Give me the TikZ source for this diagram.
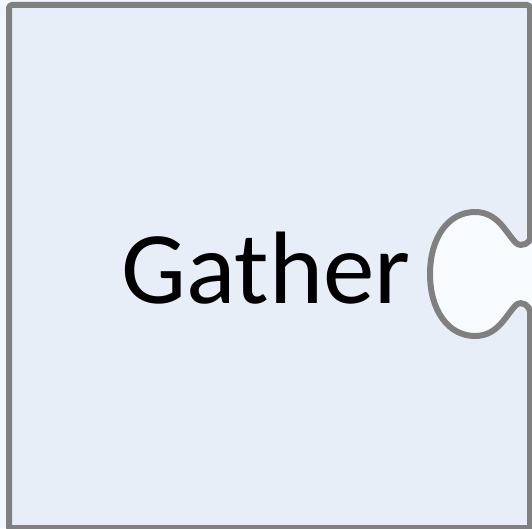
\documentclass[tikz,border=0pt]{standalone}
\usepackage{fontspec}
\setmainfont{Carlito}
\definecolor{bgblue}{HTML}{F1F6FD}
\definecolor{piecefill}{HTML}{E8EEF7}
\definecolor{notchfill}{HTML}{F8FBFE}
\definecolor{edgegrey}{HTML}{808080}
\begin{document}
\begin{tikzpicture}[x=1pt,y=1pt,
  piece/.style={fill=piecefill,draw=edgegrey,line width=6pt,line join=round},
  label/.style={font=\fontsize{103}{110}\selectfont,text=black,inner sep=0pt,anchor=base}]
\useasboundingbox (0,0) rectangle (532,528);
\fill[bgblue] (0,0) rectangle (532,528);
\fill[notchfill] (430,190) rectangle (532,318);
\draw[piece,rounded corners=3pt] (9,0) -- (9,523) -- (530,523) -- (530,292)
  [sharp corners] .. controls (530,286) and (522,280) .. (516,285)
  .. controls (506,295) and (498,316) .. (475,316)
  .. controls (448,316) and (430,290) .. (430,254)
  .. controls (430,218) and (448,192) .. (475,192)
  .. controls (498,192) and (506,213) .. (516,223)
  .. controls (522,228) and (530,222) .. (530,216)
  -- (530,0) -- (9,0) -- cycle;
\node[label] (gather) at (266,225) {Gather};
\end{tikzpicture}
\end{document}
